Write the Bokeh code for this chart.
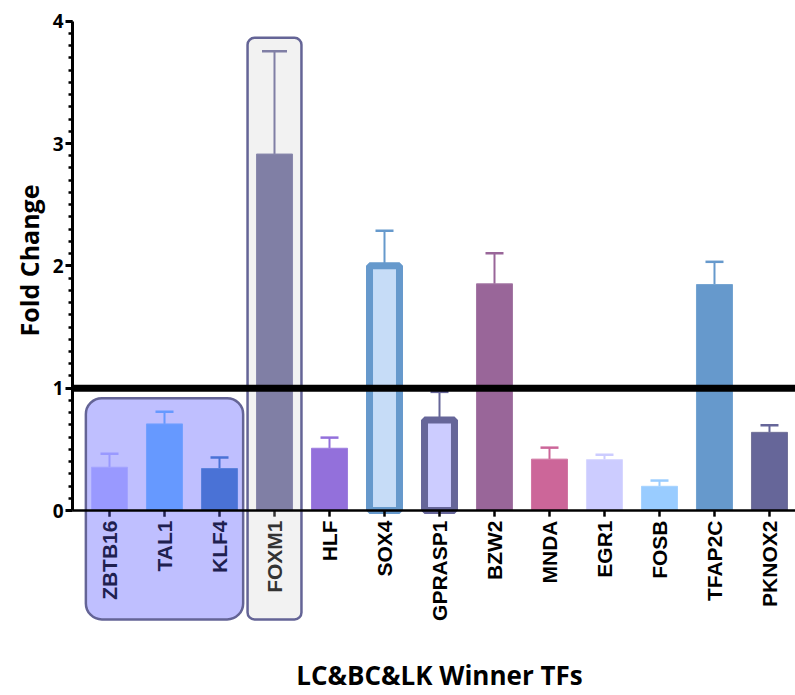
import numpy as np
from bokeh.plotting import figure
from bokeh.models import Span, LinearAxis, SingleIntervalTicker, Title
from bokeh.core.properties import value
from bokeh.embed import file_html
from bokeh.resources import INLINE

# ---------------- data ----------------
categories = ["ZBTB16", "TAL1", "KLF4", "FOXM1", "HLF", "SOX4", "GPRASP1",
              "BZW2", "MNDA", "EGR1", "FOSB", "TFAP2C", "PKNOX2"]
fold_change = [0.354, 0.708, 0.343, 2.914, 0.509, 2.00, 0.74,
               1.853, 0.42, 0.416, 0.198, 1.847, 0.639]
sem = [0.11, 0.10, 0.09, 0.84, 0.087, 0.286, 0.23,
       0.25, 0.094, 0.04, 0.047, 0.186, 0.058]
y_ticks = [0, 1, 2, 3, 4]
reference_level = 1
highlight_groups = [["ZBTB16", "TAL1", "KLF4"], ["FOXM1"]]
x_title = "LC&BC&LK Winner TFs"
y_title = "Fold Change"

# ---------------- styles ----------------
fill_colors = ["#9999FF", "#6699FF", "#4A72D6", "#807FA5", "#9370DB", "#C6DCF7",
               "#CCCCFF", "#996699", "#CC6699", "#CCCCFF", "#99CCFF", "#6699CC", "#666699"]
edge_colors = ["#A3A3FF", "#73A0FF", "#5A80DC", "#8A89AD", "#9E7EDF", "#6699CC",
               "#666699", "#A377A3", "#D177A3", "#D6D6FF", "#A6D2FF", "#73A3D1", "#737399"]
err_colors = ["#9999FF", "#6699FF", "#4A72D6", "#807FA5", "#9370DB", "#6699CC",
              "#666699", "#996699", "#CC6699", "#CCCCFF", "#99CCFF", "#6699CC", "#666699"]
cap_sizes = [18, 18, 18, 25, 18, 18, 18, 18, 18, 18, 18, 18, 18]
outlined = {"SOX4", "GPRASP1"}
label_colors = ["#20204F", "#20204F", "#20204F", "#333333"] + ["#000000"] * 9
group_fill = ["#BFBFFF", "#F2F2F2"]
group_pad = [0.43, 0.49]
group_radius = [16, 7]
group_line = "#646496"

LABEL_FONT = value("Liberation Sans")
TITLE_FONT = "Open Sans"

idx = list(range(len(categories)))
upper = [v + e for v, e in zip(fold_change, sem)]

x_start, x_end = -0.673, 12.473
y_start, y_end = -1.512, 4.071

p = figure(width=795, height=695, x_range=(x_start, x_end), y_range=(y_start, y_end),
           output_backend="svg", toolbar_location=None,
           x_axis_type=None, y_axis_type=None,
           min_border_left=72, min_border_right=0, min_border_top=12, min_border_bottom=0)
p.outline_line_color = None
p.background_fill_color = "white"
p.border_fill_color = "white"

# y axis
yaxis = LinearAxis(bounds=(min(y_ticks), max(y_ticks)),
                   ticker=SingleIntervalTicker(interval=1, num_minor_ticks=10))
yaxis.axis_line_width = 3
yaxis.major_tick_line_width = 3
yaxis.major_tick_out = 7
yaxis.major_tick_in = 0
yaxis.minor_tick_line_width = 2.5
yaxis.minor_tick_out = 4
yaxis.minor_tick_in = 0
yaxis.major_label_standoff = 2
yaxis.major_label_text_font = TITLE_FONT
yaxis.major_label_text_font_style = "bold"
yaxis.major_label_text_font_size = "19px"
yaxis.major_label_text_color = "black"
p.add_layout(yaxis, "left")

# y title (left-side title, shifted down from the frame top)
p.add_layout(Title(text=y_title, align="right", offset=172, vertical_align="bottom",
                   standoff=8, text_font=TITLE_FONT, text_font_style="bold",
                   text_font_size="25px", text_color="black"), "left")

# highlight boxes
for g, fc, pad, rad in zip(highlight_groups, group_fill, group_pad, group_radius):
    gi = [categories.index(c) for c in g]
    p.quad(left=[min(gi) - pad], right=[max(gi) + pad],
           top=[max(upper[i] for i in gi) + 0.11], bottom=[-0.89],
           fill_color=fc, line_color=group_line, line_width=2.5, border_radius=rad)

# error stems
p.segment(x0=idx, y0=fold_change, x1=idx, y1=upper, line_color=err_colors, line_width=2)

# bars
widths = [0.545 if c in outlined else 0.655 for c in categories]
lws = [7 if c in outlined else 1 for c in categories]
p.vbar(x=idx, top=fold_change, bottom=0, width=widths,
       fill_color=fill_colors, line_color=edge_colors, line_width=lws)

# error caps
p.scatter(x=idx, y=upper, marker="dash", size=cap_sizes, line_color=err_colors, line_width=2.5)

# x axis (drawn manually so labels can sit inside the highlight boxes)
p.add_layout(Span(location=0, dimension="width", line_color="black", line_width=2.5))
p.segment(x0=idx, y0=[0] * len(idx), x1=idx, y1=[-0.05] * len(idx),
          line_color=label_colors, line_width=2.5)
p.text(x=idx, y=[0] * len(idx), text=categories, angle=np.pi / 2,
       text_align="right", text_baseline="middle", y_offset=10,
       text_font=LABEL_FONT, text_font_style="bold", text_font_size="21px",
       text_color=label_colors)

# x title
p.text(x=[float(np.mean(idx))], y=[y_start + 0.02], text=[x_title], text_align="center",
       text_baseline="bottom",
       text_font=value(TITLE_FONT), text_font_style="bold", text_font_size="26px",
       text_color="black")

# reference line
p.add_layout(Span(location=reference_level, dimension="width", line_color="black", line_width=7))

open("out.html", "w").write(file_html(p, INLINE))
